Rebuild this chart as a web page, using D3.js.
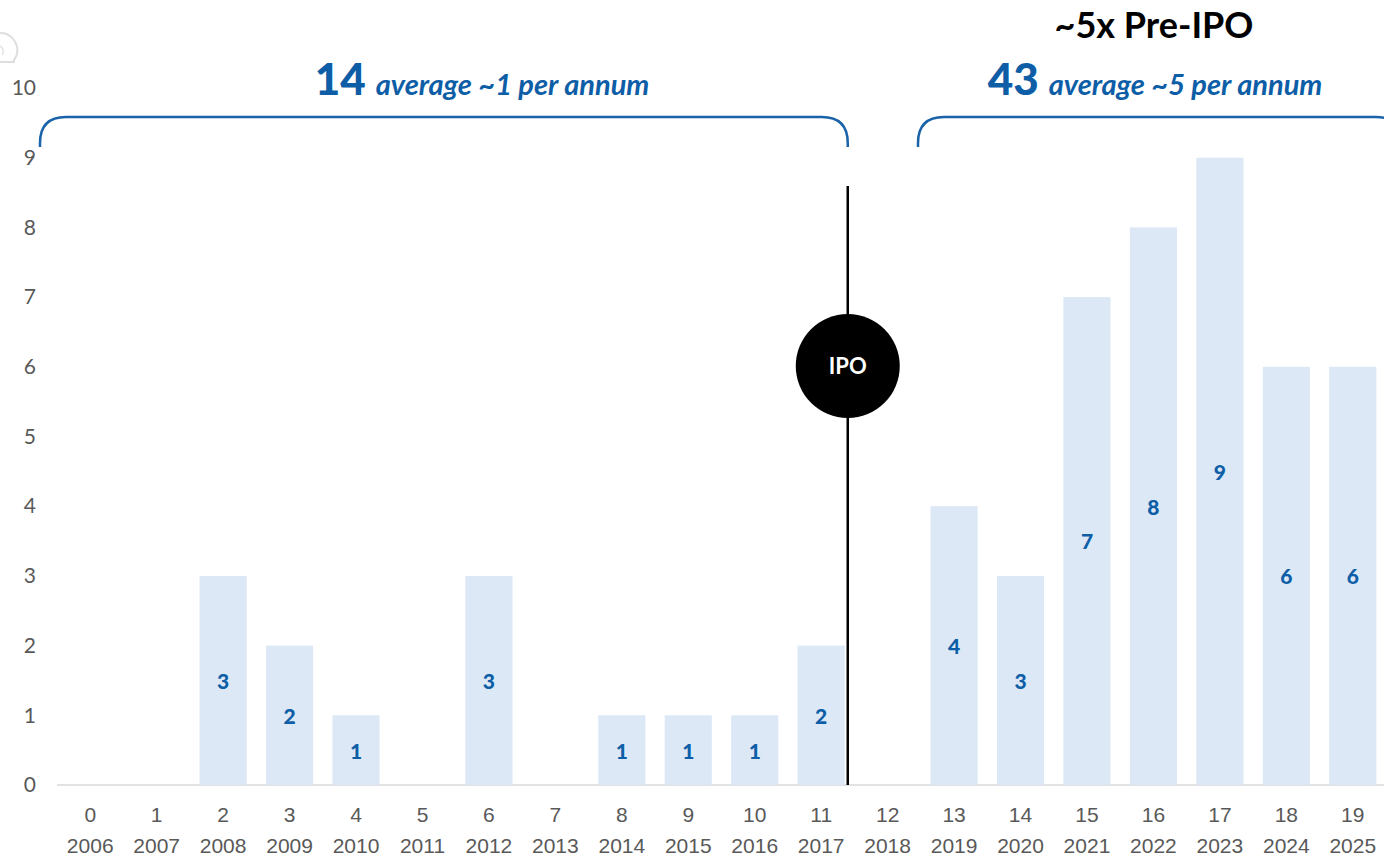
<!DOCTYPE html>
<html>
<head>
<meta charset="utf-8">
<script src="https://cdn.jsdelivr.net/npm/d3@7"></script>
<style>
  html, body { margin: 0; padding: 0; background: #ffffff; }
  svg { display: block; font-family: Lato, "Open Sans", sans-serif; }
</style>
</head>
<body>
<svg id="chart" width="1384" height="858"></svg>
<script>
// Deals per year, 2006–2025
const indices = ["0","1","2","3","4","5","6","7","8","9","10","11","12","13","14","15","16","17","18","19"];
const years = ["2006","2007","2008","2009","2010","2011","2012","2013","2014","2015","2016","2017","2018","2019","2020","2021","2022","2023","2024","2025"];
const counts = [0,0,3,2,1,0,3,0,1,1,1,2,0,4,3,7,8,9,6,6];
const yTicks = [0,1,2,3,4,5,6,7,8,9,10];

// Period summaries
const preIpoTotal = "14";
const preIpoText = "average ~1 per annum";
const postIpoTotal = "43";
const postIpoText = "average ~5 per annum";
const headline = "~5x Pre-IPO";
const ipoLabel = "IPO";
const ipoAfterIndex = 11;   // IPO marker sits after the 2017 bar

const svg = d3.select("#chart");
const W = 1384, H = 858;

const x = d3.scaleBand()
  .domain(indices)
  .range([57, 1386])
  .paddingInner(0.29)
  .paddingOuter(0.145);

const y = d3.scaleLinear().domain([0, 10]).range([785, 88]);

const blue = "#0d5ea6";
const axisGray = "#595959";

// Faint cropped icon outline in the top-left corner
svg.append("path")
  .attr("d", "M0,33 A17,17 0 0 1 14,60 L14,62 L0,62")
  .attr("fill", "none").attr("stroke", "#dedede").attr("stroke-width", 2);
svg.append("path")
  .attr("d", "M0,46 A6,6 0 0 1 2,55")
  .attr("fill", "none").attr("stroke", "#e4e4e4").attr("stroke-width", 1.5);

// Baseline
svg.append("line")
  .attr("x1", 57).attr("x2", W)
  .attr("y1", y(0)).attr("y2", y(0))
  .attr("stroke", "#d9d9d9").attr("stroke-width", 1.5);

// Y axis labels
const yAxis = d3.axisLeft(y).tickValues(yTicks).tickSize(0).tickPadding(0).tickFormat(d3.format("d"));
const gy = svg.append("g").attr("transform", "translate(36,0)").call(yAxis);
gy.select(".domain").remove();
gy.selectAll("text")
  .attr("fill", axisGray)
  .style("font-size", "21px")
  .style("font-family", "Lato, 'Open Sans', sans-serif");

// X axis labels: index on first row, year on second
const xAxis = d3.axisBottom(x).tickSize(0).tickPadding(0).tickFormat(() => "");
const gx = svg.append("g").attr("transform", `translate(0,${y(0)})`).call(xAxis);
gx.select(".domain").remove();
gx.selectAll(".tick text").remove();
gx.selectAll(".tick").each(function(d, i) {
  const t = d3.select(this).append("text")
    .attr("text-anchor", "middle")
    .attr("fill", axisGray)
    .style("font-size", "21px");
  t.append("tspan").attr("x", 0).attr("y", 37).text(d);
  t.append("tspan").attr("x", 0).attr("y", 68).text(years[i]);
});

// Bars
const data = indices.map((d, i) => ({ key: d, value: counts[i] }));
svg.append("g").selectAll("rect")
  .data(data.filter(d => d.value > 0))
  .join("rect")
  .attr("x", d => x(d.key))
  .attr("width", x.bandwidth())
  .attr("y", d => y(d.value))
  .attr("height", d => y(0) - y(d.value))
  .attr("fill", "#dce8f6");

// Value labels centred in each bar
svg.append("g").selectAll("text")
  .data(data.filter(d => d.value > 0))
  .join("text")
  .attr("x", d => x(d.key) + x.bandwidth() / 2)
  .attr("y", d => (y(d.value) + y(0)) / 2)
  .attr("dy", "0.4em")
  .attr("text-anchor", "middle")
  .attr("fill", blue)
  .style("font-size", "21px")
  .style("font-weight", "900")
  .text(d => d.value);

// IPO divider
const ipoX = x(indices[ipoAfterIndex]) + x.bandwidth() / 2 + x.step() * 0.4;
svg.append("line")
  .attr("x1", ipoX).attr("x2", ipoX)
  .attr("y1", 186).attr("y2", y(0))
  .attr("stroke", "#000").attr("stroke-width", 2.5);
svg.append("circle")
  .attr("cx", ipoX).attr("cy", 366).attr("r", 52)
  .attr("fill", "#000");
svg.append("text")
  .attr("x", ipoX).attr("y", 366).attr("dy", "0.36em")
  .attr("text-anchor", "middle")
  .attr("fill", "#fff")
  .style("font-size", "22px").style("font-weight", "700")
  .text(ipoLabel);

// Period brackets
function bracket(x0, x1, top, bottom, r) {
  return `M${x0},${bottom} L${x0},${top + r} Q${x0},${top} ${x0 + r},${top} L${x1 - r},${top} Q${x1},${top} ${x1},${top + r} L${x1},${bottom}`;
}
svg.append("path")
  .attr("d", bracket(40, ipoX, 117, 147, 26))
  .attr("fill", "none").attr("stroke", "#1a63a8").attr("stroke-width", 2.5);
svg.append("path")
  .attr("d", bracket(918, 1402, 117, 147, 26))
  .attr("fill", "none").attr("stroke", "#1a63a8").attr("stroke-width", 2.5);

// Period titles
function periodTitle(cx, total, text) {
  const t = svg.append("text")
    .attr("x", cx).attr("y", 95)
    .attr("text-anchor", "middle")
    .attr("fill", blue)
    .style("font-weight", "700");
  t.append("tspan").style("font-size", "44px").style("font-weight", "900").text(total);
  t.append("tspan").attr("dx", 10).style("font-size", "29px").style("font-style", "italic").text(text);
}
periodTitle(482, preIpoTotal, preIpoText);
periodTitle(1155, postIpoTotal, postIpoText);

svg.append("text")
  .attr("x", 1154).attr("y", 38)
  .attr("text-anchor", "middle")
  .attr("fill", "#000")
  .style("font-size", "36px").style("font-weight", "700")
  .text(headline);
</script>
</body>
</html>
